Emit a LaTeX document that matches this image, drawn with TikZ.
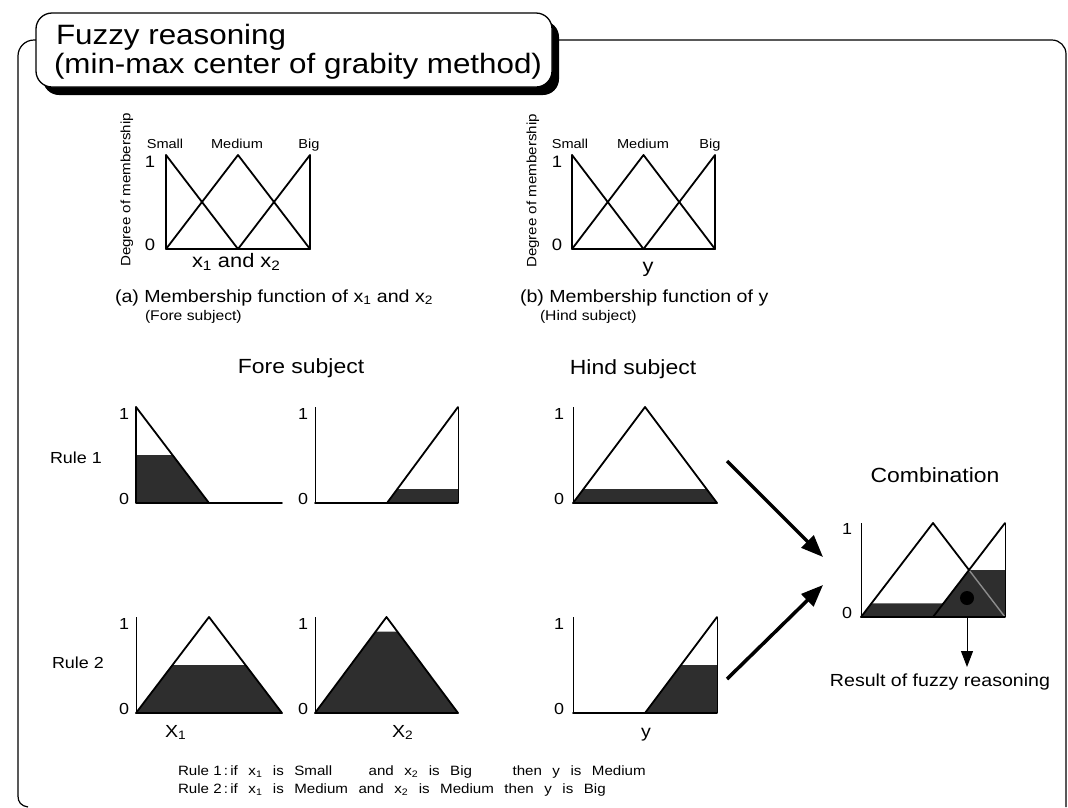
\documentclass[tikz,border=0pt]{standalone}
\usepackage{fontspec}
\setmainfont{Liberation Sans}[FakeStretch=1.12]
\usetikzlibrary{arrows.meta,shadows}
\begin{document}
\begin{tikzpicture}[x=1pt,y=-1pt,
  curve/.style={line width=1.8pt,line join=round,line cap=round},
  thinax/.style={line width=0.9pt},
  shade/.style={fill=black!82},
  frameline/.style={line width=1.2pt},
  txt/.style={inner sep=0pt,outer sep=0pt},
  fs/.style={font=\fontsize{#1}{#1}\selectfont},
  bigarrow/.style={line width=3.5pt,-{Triangle[length=22pt,width=17pt]}},
  resarrow/.style={line width=1pt,-{Triangle[length=16pt,width=12pt]}}
]
\useasboundingbox (0,0) rectangle (1068,807);

% frame
\draw[frameline,rounded corners=16pt] (40,40) -- (18,40) -- (18,796);
\draw[frameline] (18,796) .. controls (18,802) and (21,806) .. (28,807);
\draw[frameline,rounded corners=14pt] (540,40) -- (1066,40) -- (1066,807);

% title
\node[draw,line width=1.3pt,fill=white,rounded corners=16pt,inner sep=0pt,
      minimum width=516pt,minimum height=74pt,
      drop shadow={shadow xshift=7pt,shadow yshift=-8pt,fill=black,opacity=1}]
  (title) at (294,50) {};
\node[txt,fs=28,anchor=base west] (title1) at (56,44) {Fuzzy reasoning};
\node[txt,fs=28,anchor=base west] (title2) at (54,73) {(min-max center of grabity method)};

% ---------- membership function (a)
\draw[curve] (166,155) -- (166,249) -- (310,249);
\draw[curve] (166,155) -- (238,249);
\draw[curve] (166,249) -- (238,155) -- (310,249);
\draw[curve] (238,249) -- (310,155) -- (310,249);
\node[txt,fs=13.5,rotate=90] (dega) at (127,190) {Degree of membership};
\node[txt,fs=13,anchor=base] (sma) at (165,148) {Small};
\node[txt,fs=13,anchor=base] (meda) at (237,148) {Medium};
\node[txt,fs=13,anchor=base] (biga) at (309,148) {Big};
\node[txt,fs=16.5,anchor=base] (onea) at (150,167) {1};
\node[txt,fs=16.5,anchor=base] (zeroa) at (150,250) {0};
\node[txt,fs=19.5,anchor=base west] (xaxa) at (192,267) {x\textsubscript{1} and x\textsubscript{2}};
\node[txt,fs=17.5,anchor=base west] (capa) at (115,302) {(a) Membership function of x\textsubscript{1} and x\textsubscript{2}};
\node[txt,fs=14,anchor=base west] (suba) at (145,320) {(Fore subject)};

% ---------- membership function (b)
\draw[curve] (572,155) -- (572,249) -- (715,249);
\draw[curve] (572,155) -- (643.5,249);
\draw[curve] (572,249) -- (643.5,155) -- (715,249);
\draw[curve] (643.5,249) -- (715,155) -- (715,249);
\node[txt,fs=13.5,rotate=90] (degb) at (533,191) {Degree of membership};
\node[txt,fs=13,anchor=base] (smb) at (570,148) {Small};
\node[txt,fs=13,anchor=base] (medb) at (643,148) {Medium};
\node[txt,fs=13,anchor=base] (bigb) at (710,148) {Big};
\node[txt,fs=16.5,anchor=base] (oneb) at (557,167) {1};
\node[txt,fs=16.5,anchor=base] (zerob) at (557,250) {0};
\node[txt,fs=19.5,anchor=base] (yaxb) at (648,272) {y};
\node[txt,fs=17.5,anchor=base west] (capb) at (520,302) {(b) Membership function of y};
\node[txt,fs=14,anchor=base west] (subb) at (540,320) {(Hind subject)};

% ---------- headings
\node[txt,fs=20.5,anchor=base] (fore) at (301,373) {Fore subject};
\node[txt,fs=20.5,anchor=base] (hind) at (633,374) {Hind subject};
\node[txt,fs=20.5,anchor=base] (comb) at (935,482) {Combination};
\node[txt,fs=16,anchor=base west] (r1) at (50,463) {Rule 1};
\node[txt,fs=16,anchor=base west] (r2) at (52,668) {Rule 2};

% ---------- Rule 1, x1 Small
\fill[shade] (136,503) -- (136,455) -- (172.5,455) -- (209,503) -- cycle;
\draw[curve] (136,407) -- (136,503) -- (282,503);
\draw[curve] (136,407) -- (209,503);
\node[txt,fs=16,anchor=base] (o11) at (124,419) {1};
\node[txt,fs=16,anchor=base] (z11) at (124,504) {0};

% ---------- Rule 1, x2 Big
\fill[shade] (387,503) -- (397.5,489) -- (458,489) -- (458,503) -- cycle;
\draw[thinax] (315,407) -- (315,503);
\draw[thinax] (458,407) -- (458,503);
\draw[curve] (315,503) -- (458,503);
\draw[curve] (387,503) -- (458,407);
\node[txt,fs=16,anchor=base] (o12) at (303,419) {1};
\node[txt,fs=16,anchor=base] (z12) at (303,504) {0};

% ---------- Rule 1, y Medium
\fill[shade] (573,503) -- (583.5,489) -- (706.5,489) -- (717,503) -- cycle;
\draw[thinax] (573,407) -- (573,503);
\draw[curve] (573,503) -- (645,407) -- (717,503) -- cycle;
\node[txt,fs=16,anchor=base] (o13) at (559,419) {1};
\node[txt,fs=16,anchor=base] (z13) at (559,504) {0};

% ---------- Rule 2, x1 Medium
\fill[shade] (136,713) -- (172.5,665) -- (245.5,665) -- (282,713) -- cycle;
\draw[thinax] (136,617) -- (136,713);
\draw[curve] (136,713) -- (209,617) -- (282,713) -- cycle;
\node[txt,fs=16,anchor=base] (o21) at (124,629) {1};
\node[txt,fs=16,anchor=base] (z21) at (124,714) {0};
\node[txt,fs=17.5,anchor=base west] (lx1) at (165,737) {X\textsubscript{1}};

% ---------- Rule 2, x2 Medium
\fill[shade] (315,713) -- (375.8,631.5) -- (397.2,631.5) -- (458,713) -- cycle;
\draw[thinax] (315,617) -- (315,713);
\draw[curve] (315,713) -- (386.5,617) -- (458,713) -- cycle;
\node[txt,fs=16,anchor=base] (o22) at (303,629) {1};
\node[txt,fs=16,anchor=base] (z22) at (303,714) {0};
\node[txt,fs=17.5,anchor=base west] (lx2) at (392,737) {X\textsubscript{2}};

% ---------- Rule 2, y Big
\fill[shade] (645,713) -- (681,665) -- (717,665) -- (717,713) -- cycle;
\draw[thinax] (573,617) -- (573,713);
\draw[thinax] (717,617) -- (717,713);
\draw[curve] (573,713) -- (717,713);
\draw[curve] (645,713) -- (717,617);
\node[txt,fs=16,anchor=base] (o23) at (559,629) {1};
\node[txt,fs=16,anchor=base] (z23) at (559,714) {0};
\node[txt,fs=17.5,anchor=base] (ly) at (646,737) {y};

% ---------- Combination
\fill[shade] (861,617) -- (871.5,603.3) -- (943.5,603.3) -- (969,570) -- (1005,570) -- (1005,617) -- cycle;
\draw[thinax] (861,523) -- (861,617);
\draw[curve] (861,617) -- (933,523) -- (969,570);
\draw[line width=1.4pt,black!45] (969,570) -- (1005,617);
\draw[curve] (933,617) -- (1005,523);
\draw[thinax] (1005,523) -- (1005,617);
\draw[curve] (861,617) -- (1005,617);
\node[txt,fs=16,anchor=base] (oc) at (847,534) {1};
\node[txt,fs=16,anchor=base] (zc) at (847,618) {0};
\node[circle,fill=black,minimum size=14pt,inner sep=0pt] (dot) at (967,598) {};
\coordinate (base) at (967,617);
\coordinate (restip) at (967,667);
\draw[resarrow] (base) -- (restip);
\node[txt,fs=17.5,anchor=base] (result) at (940,686) {Result of fuzzy reasoning};

% ---------- big arrows
\coordinate (a1s) at (727,461);
\coordinate (a1e) at (823,557);
\coordinate (a2s) at (727,679);
\coordinate (a2e) at (823,585);
\draw[bigarrow] (a1s) -- (a1e);
\draw[bigarrow] (a2s) -- (a2e);

% ---------- rules text
\node[txt,fs=13.5,anchor=base west] (rule1txt) at (178,775)
  {Rule 1\,:\,{\spaceskip=10.5pt plus 1pt if x\textsubscript{1} is Small\hspace{26pt} and x\textsubscript{2} is Big\hspace{30pt} then y is Medium}};
\node[txt,fs=13.5,anchor=base west] (rule2txt) at (178,793)
  {Rule 2\,:\,{\spaceskip=10.5pt plus 1pt if x\textsubscript{1} is Medium and x\textsubscript{2} is Medium then y is Big}};
\end{tikzpicture}
\end{document}
